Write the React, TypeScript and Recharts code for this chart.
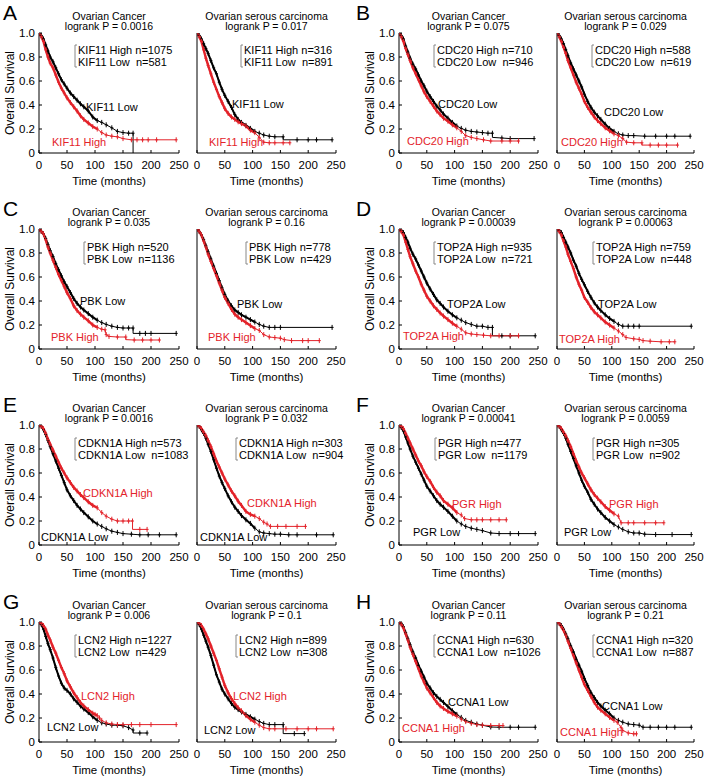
import { LineChart, Line, XAxis, YAxis } from "recharts";

type Pt = [number, number];

// panel genes, p values and group sizes (A..H)
const genes = ["KIF11", "CDC20", "PBK", "TOP2A", "CDKN1A", "PGR", "LCN2", "CCNA1"];
const letters = ["A", "B", "C", "D", "E", "F", "G", "H"];
const pOvarian = ["0.0016", "0.075", "0.035", "0.00039", "0.0016", "0.00041", "0.006", "0.11"];
const pSerous = ["0.017", "0.029", "0.16", "0.00063", "0.032", "0.0059", "0.1", "0.21"];
const nHighOvarian = [1075, 710, 520, 935, 573, 477, 1227, 630];
const nLowOvarian = [581, 946, 1136, 721, 1083, 1179, 429, 1026];
const nHighSerous = [316, 588, 778, 759, 303, 305, 899, 320];
const nLowSerous = [891, 619, 429, 448, 904, 902, 308, 887];

const xTicks = [0, 50, 100, 150, 200, 250];
const yTicks = [0, 0.2, 0.4, 0.6, 0.8, 1.0];

// survival curves: [months, survival]
const kif11OvLow: Pt[] = [[0,1],[4,0.98],[8,0.95],[12,0.9],[16,0.85],[20,0.8],[25,0.76],[30,0.71],[35,0.66],[40,0.61],[45,0.575],[50,0.54],[56,0.5],[62,0.47],[68,0.44],[74,0.41],[80,0.385],[88,0.35],[96,0.3],[104,0.27],[112,0.255],[120,0.235],[130,0.21],[140,0.18],[150,0.17],[160,0.165],[168,0.165],[168,0]];
const kif11OvHigh: Pt[] = [[0,1],[4,0.97],[8,0.93],[12,0.86],[16,0.8],[20,0.75],[25,0.71],[30,0.65],[35,0.59],[40,0.54],[45,0.5],[50,0.46],[56,0.42],[62,0.385],[68,0.35],[74,0.31],[80,0.28],[88,0.25],[96,0.22],[104,0.2],[112,0.17],[120,0.15],[130,0.14],[140,0.135],[150,0.12],[165,0.11],[175,0.11],[185,0.11],[195,0.11],[210,0.11],[245,0.11]];
const kif11SeLow: Pt[] = [[0,1],[4,0.98],[8,0.95],[12,0.91],[16,0.87],[20,0.83],[25,0.77],[30,0.71],[35,0.66],[40,0.59],[45,0.53],[50,0.48],[56,0.43],[62,0.38],[68,0.32],[74,0.28],[80,0.255],[88,0.23],[96,0.205],[104,0.18],[112,0.165],[120,0.15],[130,0.14],[140,0.135],[155,0.135],[155,0.11],[180,0.11],[200,0.11],[215,0.11],[243,0.11]];
const kif11SeHigh: Pt[] = [[0,1],[4,0.97],[8,0.93],[12,0.86],[16,0.79],[20,0.73],[25,0.66],[30,0.59],[35,0.53],[40,0.47],[45,0.42],[50,0.37],[56,0.33],[62,0.3],[68,0.28],[74,0.26],[80,0.245],[88,0.225],[96,0.19],[104,0.17],[112,0.13],[120,0.09],[130,0.085],[140,0.085],[155,0.085],[167,0.085]];

const cdc20OvLow: Pt[] = [[0,1],[4,0.98],[8,0.95],[12,0.89],[16,0.84],[20,0.79],[25,0.74],[30,0.7],[35,0.65],[40,0.6],[45,0.56],[50,0.515],[56,0.47],[62,0.43],[68,0.39],[74,0.36],[80,0.325],[88,0.29],[96,0.255],[104,0.225],[112,0.205],[120,0.19],[130,0.18],[140,0.175],[150,0.17],[160,0.165],[168,0.165],[168,0.13],[185,0.125],[200,0.12],[243,0.12]];
const cdc20OvHigh: Pt[] = [[0,1],[4,0.97],[8,0.93],[12,0.87],[16,0.82],[20,0.77],[25,0.71],[30,0.66],[35,0.61],[40,0.56],[45,0.51],[50,0.47],[56,0.43],[62,0.39],[68,0.35],[74,0.32],[80,0.29],[88,0.265],[96,0.235],[104,0.21],[112,0.18],[120,0.145],[130,0.13],[140,0.12],[152,0.11],[165,0.1],[185,0.1],[200,0.1],[215,0.1]];
const cdc20SeLow: Pt[] = [[0,1],[4,0.98],[8,0.95],[12,0.91],[16,0.86],[20,0.81],[25,0.75],[30,0.7],[35,0.65],[40,0.6],[45,0.55],[50,0.49],[56,0.43],[62,0.38],[68,0.34],[74,0.31],[80,0.28],[88,0.24],[96,0.205],[104,0.18],[112,0.16],[120,0.15],[130,0.145],[140,0.145],[160,0.14],[180,0.14],[200,0.14],[215,0.14],[243,0.14]];
const cdc20SeHigh: Pt[] = [[0,1],[4,0.97],[8,0.93],[12,0.88],[16,0.83],[20,0.77],[25,0.71],[30,0.65],[35,0.59],[40,0.54],[45,0.49],[50,0.43],[56,0.38],[62,0.34],[68,0.3],[74,0.27],[80,0.245],[88,0.21],[96,0.185],[104,0.16],[112,0.145],[120,0.12],[127,0.09],[140,0.085],[155,0.085],[155,0.066],[170,0.066],[185,0.066],[200,0.066],[220,0.066]];

const pbkOvLow: Pt[] = [[0,1],[4,0.98],[8,0.96],[12,0.92],[16,0.87],[20,0.82],[25,0.77],[30,0.71],[35,0.66],[40,0.61],[45,0.56],[50,0.52],[56,0.47],[62,0.42],[68,0.38],[74,0.35],[80,0.325],[88,0.295],[96,0.265],[104,0.24],[112,0.22],[120,0.205],[130,0.19],[140,0.18],[150,0.175],[160,0.175],[168,0.175],[168,0.13],[180,0.13],[190,0.13],[200,0.13],[245,0.13]];
const pbkOvHigh: Pt[] = [[0,1],[4,0.98],[8,0.96],[12,0.91],[16,0.85],[20,0.8],[25,0.74],[30,0.68],[35,0.62],[40,0.57],[45,0.52],[50,0.47],[56,0.42],[62,0.36],[68,0.32],[74,0.29],[80,0.265],[88,0.235],[96,0.2],[104,0.18],[112,0.165],[118,0.16],[120,0.12],[125,0.105],[140,0.1],[155,0.1],[155,0.078],[170,0.075],[185,0.075],[200,0.075],[215,0.075]];
const pbkSeLow: Pt[] = [[0,1],[4,0.98],[8,0.95],[12,0.91],[16,0.86],[20,0.81],[25,0.75],[30,0.69],[35,0.63],[40,0.57],[45,0.51],[50,0.455],[56,0.4],[62,0.36],[68,0.325],[74,0.305],[80,0.285],[88,0.265],[96,0.245],[104,0.225],[112,0.205],[120,0.19],[130,0.18],[140,0.18],[150,0.18],[243,0.18]];
const pbkSeHigh: Pt[] = [[0,1],[4,0.98],[8,0.95],[12,0.9],[16,0.85],[20,0.79],[25,0.73],[30,0.67],[35,0.61],[40,0.55],[45,0.49],[50,0.43],[56,0.38],[62,0.33],[68,0.29],[74,0.265],[80,0.245],[88,0.22],[96,0.195],[104,0.17],[112,0.155],[120,0.12],[130,0.1],[140,0.095],[150,0.09],[157,0.078],[170,0.07],[190,0.07],[200,0.07],[220,0.07]];

const top2aOvLow: Pt[] = [[0,1],[4,0.99],[8,0.97],[12,0.93],[16,0.89],[20,0.84],[25,0.79],[30,0.75],[35,0.7],[40,0.65],[45,0.6],[50,0.55],[56,0.5],[62,0.455],[68,0.41],[74,0.38],[80,0.35],[88,0.315],[96,0.285],[104,0.26],[112,0.24],[120,0.22],[130,0.205],[140,0.19],[150,0.19],[160,0.18],[168,0.18],[168,0.11],[185,0.11],[200,0.11],[245,0.11]];
const top2aOvHigh: Pt[] = [[0,1],[4,0.98],[8,0.95],[12,0.89],[16,0.83],[20,0.77],[25,0.71],[30,0.65],[35,0.6],[40,0.54],[45,0.49],[50,0.44],[56,0.4],[62,0.36],[68,0.33],[74,0.3],[80,0.275],[88,0.245],[96,0.215],[104,0.19],[112,0.165],[120,0.135],[130,0.125],[140,0.12],[152,0.115],[165,0.11],[180,0.11],[200,0.11],[215,0.11]];
const top2aSeLow: Pt[] = [[0,1],[4,0.99],[8,0.97],[12,0.93],[16,0.89],[20,0.85],[25,0.8],[30,0.74],[35,0.69],[40,0.63],[45,0.58],[50,0.535],[56,0.48],[62,0.43],[68,0.385],[74,0.35],[80,0.32],[88,0.285],[96,0.255],[104,0.23],[112,0.205],[120,0.19],[130,0.19],[140,0.19],[150,0.19],[245,0.19]];
const top2aSeHigh: Pt[] = [[0,1],[4,0.98],[8,0.95],[12,0.9],[16,0.85],[20,0.79],[25,0.73],[30,0.67],[35,0.6],[40,0.54],[45,0.49],[50,0.43],[56,0.39],[62,0.345],[68,0.31],[74,0.285],[80,0.26],[88,0.225],[96,0.2],[104,0.175],[112,0.15],[120,0.12],[126,0.096],[140,0.085],[150,0.08],[157,0.07],[170,0.065],[190,0.06],[205,0.06],[215,0.06]];

const cdkn1aOvLow: Pt[] = [[0,1],[4,0.99],[8,0.96],[12,0.92],[16,0.87],[20,0.82],[25,0.76],[30,0.7],[35,0.64],[40,0.58],[45,0.52],[50,0.46],[56,0.41],[62,0.37],[68,0.33],[74,0.3],[80,0.27],[88,0.235],[96,0.2],[104,0.175],[112,0.155],[120,0.135],[130,0.115],[140,0.105],[150,0.095],[165,0.09],[180,0.085],[195,0.085],[215,0.085],[245,0.085]];
const cdkn1aOvHigh: Pt[] = [[0,1],[4,0.99],[8,0.97],[12,0.93],[16,0.88],[20,0.84],[25,0.79],[30,0.74],[35,0.69],[40,0.64],[45,0.6],[50,0.56],[56,0.52],[62,0.48],[68,0.45],[74,0.42],[80,0.395],[88,0.36],[96,0.33],[104,0.31],[112,0.27],[120,0.24],[130,0.215],[140,0.2],[150,0.2],[160,0.2],[167,0.2],[167,0.13],[180,0.13],[193,0.13]];
const cdkn1aSeLow: Pt[] = [[0,1],[4,0.99],[8,0.96],[12,0.93],[16,0.89],[20,0.84],[25,0.78],[30,0.71],[35,0.64],[40,0.575],[45,0.52],[50,0.47],[56,0.41],[62,0.36],[68,0.315],[74,0.28],[80,0.245],[88,0.21],[96,0.18],[104,0.14],[112,0.11],[120,0.1],[130,0.095],[140,0.09],[150,0.09],[165,0.085],[180,0.085],[215,0.085],[245,0.085]];
const cdkn1aSeHigh: Pt[] = [[0,1],[4,0.99],[8,0.97],[12,0.94],[16,0.91],[20,0.87],[25,0.82],[30,0.76],[35,0.7],[40,0.65],[45,0.6],[50,0.55],[56,0.5],[62,0.45],[68,0.41],[74,0.365],[80,0.33],[88,0.28],[96,0.255],[104,0.24],[112,0.22],[120,0.19],[126,0.175],[132,0.155],[145,0.155],[160,0.155],[180,0.155],[195,0.155]];

const pgrOvLow: Pt[] = [[0,1],[4,0.98],[8,0.95],[12,0.9],[16,0.85],[20,0.8],[25,0.74],[30,0.69],[35,0.64],[40,0.59],[45,0.54],[50,0.49],[56,0.45],[62,0.41],[68,0.37],[74,0.34],[80,0.315],[88,0.28],[96,0.24],[104,0.2],[112,0.175],[120,0.155],[130,0.14],[140,0.13],[150,0.12],[165,0.1],[180,0.095],[200,0.095],[215,0.095],[245,0.095]];
const pgrOvHigh: Pt[] = [[0,1],[4,0.99],[8,0.97],[12,0.93],[16,0.89],[20,0.85],[25,0.8],[30,0.75],[35,0.7],[40,0.66],[45,0.61],[50,0.57],[56,0.53],[62,0.48],[68,0.44],[74,0.41],[80,0.37],[88,0.34],[96,0.31],[104,0.27],[112,0.25],[118,0.22],[130,0.21],[140,0.21],[150,0.21],[165,0.21],[180,0.21],[193,0.21]];
const pgrSeLow: Pt[] = [[0,1],[4,0.99],[8,0.96],[12,0.93],[16,0.89],[20,0.84],[25,0.78],[30,0.72],[35,0.66],[40,0.6],[45,0.54],[50,0.49],[56,0.44],[62,0.38],[68,0.34],[74,0.3],[80,0.27],[88,0.23],[96,0.2],[104,0.17],[112,0.15],[120,0.13],[130,0.11],[140,0.1],[150,0.1],[160,0.09],[180,0.087],[210,0.087],[245,0.087]];
const pgrSeHigh: Pt[] = [[0,1],[4,0.99],[8,0.97],[12,0.94],[16,0.91],[20,0.87],[25,0.82],[30,0.76],[35,0.7],[40,0.65],[45,0.6],[50,0.56],[56,0.51],[62,0.46],[68,0.42],[74,0.39],[80,0.36],[88,0.32],[96,0.29],[104,0.26],[112,0.24],[117,0.185],[130,0.185],[140,0.185],[160,0.185],[180,0.185],[195,0.185]];

const lcn2OvLow: Pt[] = [[0,1],[4,0.98],[8,0.94],[12,0.88],[16,0.82],[20,0.77],[25,0.7],[30,0.62],[35,0.55],[40,0.49],[45,0.45],[50,0.43],[56,0.4],[62,0.36],[68,0.33],[74,0.3],[80,0.275],[88,0.245],[96,0.21],[104,0.18],[112,0.16],[120,0.15],[130,0.14],[140,0.14],[150,0.135],[160,0.12],[168,0.1],[168,0.075],[180,0.075],[193,0.075]];
const lcn2OvHigh: Pt[] = [[0,1],[4,0.99],[8,0.97],[12,0.94],[16,0.89],[20,0.85],[25,0.79],[30,0.74],[35,0.68],[40,0.62],[45,0.57],[50,0.51],[56,0.46],[62,0.41],[68,0.37],[74,0.33],[80,0.3],[88,0.27],[96,0.24],[100,0.23],[104,0.22],[108,0.2],[112,0.18],[120,0.16],[130,0.15],[140,0.145],[150,0.145],[165,0.145],[180,0.145],[200,0.145],[245,0.145]];
const lcn2SeLow: Pt[] = [[0,1],[4,0.98],[8,0.94],[12,0.89],[16,0.84],[20,0.79],[25,0.72],[30,0.64],[35,0.56],[40,0.5],[45,0.44],[50,0.4],[56,0.36],[62,0.32],[68,0.29],[74,0.27],[80,0.25],[88,0.23],[96,0.21],[104,0.19],[112,0.17],[120,0.155],[130,0.145],[140,0.145],[155,0.145],[155,0.07],[175,0.07],[193,0.07]];
const lcn2SeHigh: Pt[] = [[0,1],[4,0.99],[8,0.97],[12,0.94],[16,0.9],[20,0.86],[25,0.8],[30,0.74],[35,0.68],[40,0.61],[45,0.54],[50,0.47],[56,0.41],[62,0.36],[68,0.32],[74,0.285],[80,0.26],[88,0.22],[96,0.19],[104,0.165],[112,0.14],[120,0.12],[130,0.11],[140,0.11],[160,0.11],[180,0.11],[200,0.11],[215,0.11],[245,0.11]];

const ccna1OvLow: Pt[] = [[0,1],[4,0.99],[8,0.96],[12,0.91],[16,0.86],[20,0.81],[25,0.75],[30,0.7],[35,0.64],[40,0.59],[45,0.54],[50,0.49],[56,0.45],[62,0.41],[68,0.38],[74,0.355],[80,0.33],[88,0.295],[96,0.26],[104,0.23],[112,0.205],[120,0.18],[130,0.165],[140,0.15],[150,0.14],[165,0.125],[180,0.123],[200,0.123],[215,0.123],[245,0.123]];
const ccna1OvHigh: Pt[] = [[0,1],[4,0.98],[8,0.95],[12,0.9],[16,0.85],[20,0.79],[25,0.73],[30,0.67],[35,0.61],[40,0.55],[45,0.5],[50,0.45],[56,0.41],[62,0.37],[68,0.33],[74,0.3],[80,0.28],[88,0.255],[96,0.235],[104,0.215],[112,0.19],[120,0.17],[130,0.155],[140,0.145],[150,0.14],[165,0.137],[180,0.137],[187,0.137]];
const ccna1SeLow: Pt[] = [[0,1],[4,0.99],[8,0.97],[12,0.94],[16,0.9],[20,0.86],[25,0.8],[30,0.75],[35,0.69],[40,0.64],[45,0.59],[50,0.53],[56,0.47],[62,0.41],[68,0.37],[74,0.33],[80,0.3],[88,0.265],[96,0.235],[104,0.2],[112,0.18],[120,0.165],[130,0.15],[140,0.145],[150,0.14],[157,0.123],[170,0.123],[185,0.123],[200,0.123],[215,0.123],[245,0.123]];
const ccna1SeHigh: Pt[] = [[0,1],[4,0.99],[8,0.96],[12,0.93],[16,0.89],[20,0.84],[25,0.78],[30,0.72],[35,0.66],[40,0.6],[45,0.54],[50,0.48],[56,0.43],[62,0.38],[68,0.33],[74,0.29],[80,0.265],[88,0.235],[96,0.205],[104,0.18],[110,0.165],[117,0.12],[120,0.096],[130,0.075],[140,0.068],[145,0.068]];

// [high, low] for each plot, ordered A-left, A-right, B-left, ...
const curves: [Pt[], Pt[]][] = [
  [kif11OvHigh, kif11OvLow], [kif11SeHigh, kif11SeLow],
  [cdc20OvHigh, cdc20OvLow], [cdc20SeHigh, cdc20SeLow],
  [pbkOvHigh, pbkOvLow], [pbkSeHigh, pbkSeLow],
  [top2aOvHigh, top2aOvLow], [top2aSeHigh, top2aSeLow],
  [cdkn1aOvHigh, cdkn1aOvLow], [cdkn1aSeHigh, cdkn1aSeLow],
  [pgrOvHigh, pgrOvLow], [pgrSeHigh, pgrSeLow],
  [lcn2OvHigh, lcn2OvLow], [lcn2SeHigh, lcn2SeLow],
  [ccna1OvHigh, ccna1OvLow], [ccna1SeHigh, ccna1SeLow],
];

// layout (pixels)
const colX0 = [39, 197, 399, 557];
const colX1 = [179, 336, 538, 694];
const rowTop = [33, 229, 425, 622];
const plotH = 120;
const denseUntil = 106; // months where censor marks pile up into a thick line
const legendAt = [
  [77, 50], [243, 50], [436, 50], [594, 50],
  [86, 247], [248, 247], [436, 247], [595, 247],
  [77, 443], [238, 443], [437, 443], [595, 443],
  [77, 640], [238, 640], [436, 640], [595, 640],
];
// [highX, highY, lowX, lowY]
const curveLabelAt = [
  [52, 142, 86, 107], [209, 142, 232, 104], [407, 141, 438, 104], [561, 142, 604, 112],
  [51, 337, 80, 301], [208, 337, 237, 304], [403, 336, 447, 304], [559, 339, 598, 304],
  [83, 493, 41, 537], [247, 503, 200, 537], [452, 504, 413, 532], [609, 504, 564, 532],
  [81, 696, 47, 727], [233, 696, 204, 730], [402, 728, 448, 702], [560, 732, 602, 706],
];

const RED = "#e3232a";
const FONT = "'Liberation Sans', Arial, sans-serif";

function plusDot(pts: Pt[], color: string) {
  return (p: any) => {
    const i = p.index;
    if (i > 0 && pts[i - 1][0] === pts[i][0]) return <g key={`d${i}`} />;
    return (
      <g key={`d${i}`} stroke={color} strokeWidth={1}>
        <line x1={p.cx} x2={p.cx} y1={p.cy - 2.5} y2={p.cy + 2.5} />
        <line x1={p.cx - 1.5} x2={p.cx + 1.5} y1={p.cy} y2={p.cy} />
      </g>
    );
  };
}

function toRows(pts: Pt[]) {
  return pts.map(([t, s]) => ({ t, s }));
}

function KMPlot({ idx }: { idx: number }) {
  const panel = Math.floor(idx / 2);
  const col = (panel % 2) * 2 + (idx % 2);
  const row = Math.floor(panel / 2);
  const x0 = colX0[col];
  const w = colX1[col] - x0;
  const top = rowTop[row];
  const [high, low] = curves[idx];
  const showY = idx % 2 === 0;
  const tickStyle = { fontSize: 11.5, fill: "#000" };
  return (
    <div style={{ position: "absolute", left: x0 - 30, top: top - 5 }}>
      <LineChart
        width={30 + w + 14}
        height={5 + plotH + 22}
        margin={{ top: 5, right: 14, bottom: 0, left: 0 }}
        style={{ overflow: "visible" }}
      >
        <XAxis
          type="number"
          dataKey="t"
          domain={[0, 250]}
          ticks={xTicks}
          allowDataOverflow
          height={22}
          tickSize={-3}
          tickMargin={11}
          interval={0}
          axisLine={{ stroke: "#000" }}
          tickLine={{ stroke: "#000" }}
          tick={tickStyle}
        />
        <YAxis
          type="number"
          domain={[0, 1]}
          ticks={yTicks}
          allowDataOverflow
          width={30}
          tickSize={-3}
          tickMargin={7}
          interval={0}
          axisLine={{ stroke: "#000" }}
          tickLine={{ stroke: "#000" }}
          tick={showY ? tickStyle : false}
          tickFormatter={(v: number) => (v === 0 ? "0" : v.toFixed(1))}
        />
        <Line
          data={toRows(low.filter(([t]) => t <= denseUntil))}
          dataKey="s"
          type="linear"
          stroke="#000"
          strokeWidth={2}
          dot={false}
          activeDot={false}
          isAnimationActive={false}
        />
        <Line
          data={toRows(low)}
          dataKey="s"
          type="linear"
          stroke="#000"
          strokeWidth={1}
          dot={plusDot(low, "#000")}
          activeDot={false}
          isAnimationActive={false}
        />
        <Line
          data={toRows(high.filter(([t]) => t <= denseUntil))}
          dataKey="s"
          type="linear"
          stroke={RED}
          strokeWidth={2.4}
          dot={false}
          activeDot={false}
          isAnimationActive={false}
        />
        <Line
          data={toRows(high)}
          dataKey="s"
          type="linear"
          stroke={RED}
          strokeWidth={1}
          dot={plusDot(high, RED)}
          activeDot={false}
          isAnimationActive={false}
        />
      </LineChart>
    </div>
  );
}

function Texts() {
  const items: any[] = [];
  for (let idx = 0; idx < 16; idx++) {
    const panel = Math.floor(idx / 2);
    const col = (panel % 2) * 2 + (idx % 2);
    const row = Math.floor(panel / 2);
    const x0 = colX0[col];
    const cx = (x0 + colX1[col]) / 2;
    const top = rowTop[row];
    const bottom = top + plotH;
    const serous = idx % 2 === 1;
    const gene = genes[panel];
    const nH = serous ? nHighSerous[panel] : nHighOvarian[panel];
    const nL = serous ? nLowSerous[panel] : nLowOvarian[panel];
    const [lx, ly] = legendAt[idx];
    const [hx, hy, wx, wy] = curveLabelAt[idx];
    items.push(
      <g key={`t${idx}`}>
        <text x={cx} y={top - 13.5} fontSize={10.5} textAnchor="middle">
          {serous ? "Ovarian serous carcinoma" : "Ovarian Cancer"}
        </text>
        <text x={cx} y={top - 3} fontSize={10.5} textAnchor="middle">
          {`logrank P = ${serous ? pSerous[panel] : pOvarian[panel]}`}
        </text>
        <text x={cx} y={bottom + 32} fontSize={11.5} textAnchor="middle">
          Time (months)
        </text>
        {!serous && (
          <text
            x={0}
            y={0}
            fontSize={12}
            textAnchor="middle"
            transform={`translate(${x0 - 25}, ${top + plotH / 2}) rotate(-90)`}
          >
            Overall Survival
          </text>
        )}
        <path
          d={`M${lx},${ly - 5} h-2 V${ly + 17} h2`}
          fill="none"
          stroke="#888"
          strokeWidth={1}
        />
        <text x={lx + 1} y={ly + 4} fontSize={11} style={{ whiteSpace: "pre" }}>
          {`${gene} High n=${nH}`}
        </text>
        <text x={lx + 1} y={ly + 16} fontSize={11} style={{ whiteSpace: "pre" }}>
          {`${gene} Low  n=${nL}`}
        </text>
        <text x={hx} y={hy + 4} fontSize={11} fill={RED}>
          {`${gene} High`}
        </text>
        <text x={wx} y={wy + 4} fontSize={11} fill="#000">
          {`${gene} Low`}
        </text>
      </g>
    );
  }
  letters.forEach((l, i) => {
    const row = Math.floor(i / 2);
    const x = i % 2 === 0 ? 3 : 356;
    items.push(
      <text key={`l${i}`} x={x} y={rowTop[row] - 13} fontSize={21}>
        {l}
      </text>
    );
  });
  return (
    <svg
      width={709}
      height={780}
      style={{ position: "absolute", left: 0, top: 0, pointerEvents: "none", fontFamily: FONT }}
    >
      {items}
    </svg>
  );
}

export default function App() {
  return (
    <div
      style={{
        position: "absolute",
        left: 0,
        top: 0,
        width: 709,
        height: 780,
        background: "#fff",
        fontFamily: FONT,
        overflow: "hidden",
      }}
    >
      {curves.map((_, i) => (
        <KMPlot key={i} idx={i} />
      ))}
      <Texts />
    </div>
  );
}
